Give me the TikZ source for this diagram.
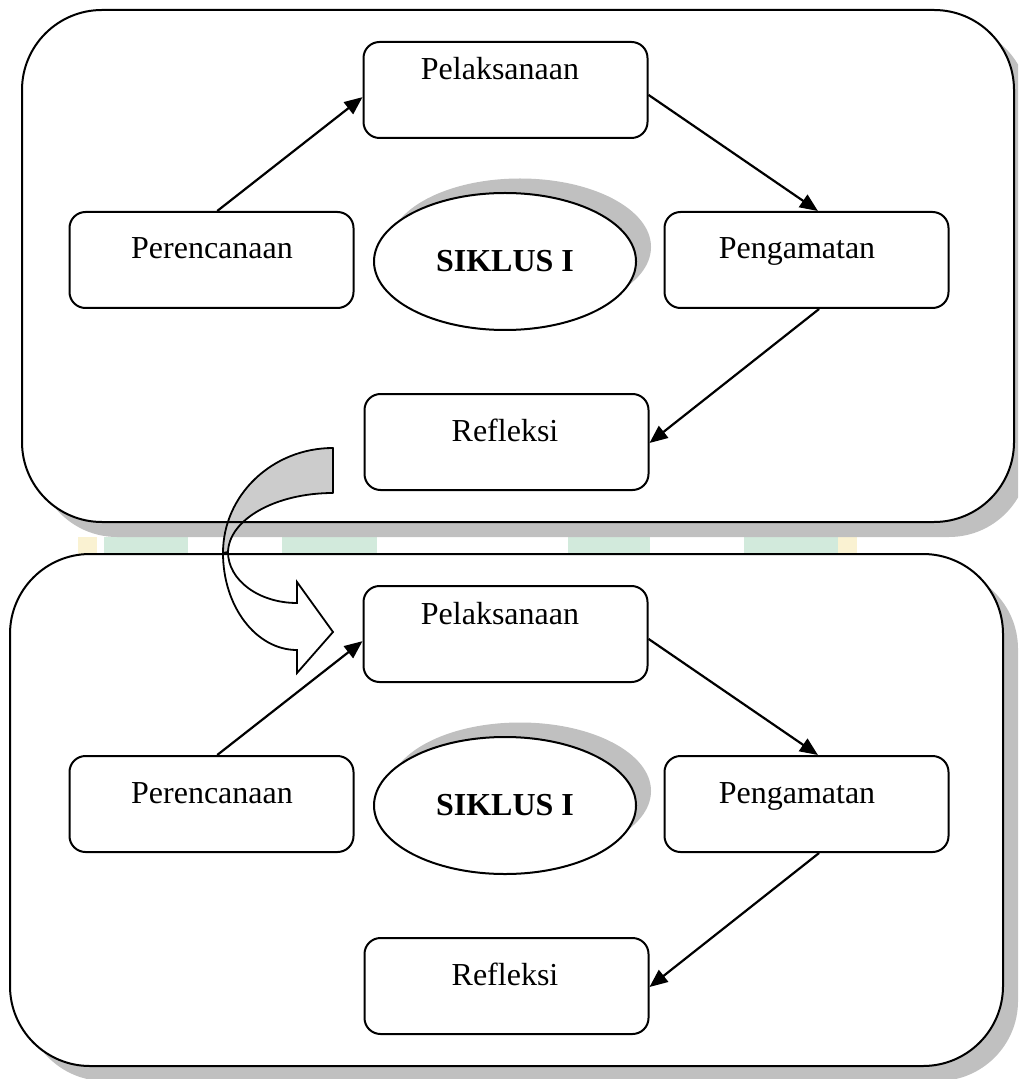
\documentclass[tikz,border=0pt]{standalone}
\usepackage{fontspec}
\setmainfont{Liberation Serif}
\usetikzlibrary{arrows.meta,calc,shapes.geometric}
\definecolor{shadowgray}{HTML}{C0C0C0}
\definecolor{bandgray}{HTML}{CCCCCC}
\definecolor{wmgreen}{HTML}{D2EADC}
\definecolor{wmyellow}{HTML}{FAF2D2}
\newcommand\siklusrow[2]{%
  \begin{scope}[shift={(0,#2)}]
    \fill[shadowgray] (520,247) ellipse [x radius=131, y radius=68.5];
    \node[cyclebox] (#1el) at (505,261.5) {\bfseries SIKLUS I};
    \node[stagebox] (#1pel) at (505.5,90) {};
    \node[stagebox] (#1per) at (211.5,260) {};
    \node[stagebox] (#1peng) at (806.5,260) {};
    \node[stagebox] (#1ref) at (506.5,442) {};
    \node[lbl] (#1pelt) at (500,80) {Pelaksanaan};
    \node[lbl] (#1pert) at (212,259) {Perencanaan};
    \node[lbl] (#1pengt) at (797,259) {Pengamatan};
    \node[lbl] (#1reft) at (505,441) {Refleksi};
  \end{scope}
  \draw[arr] ($(#1per.north west)!0.52!(#1per.north east)$) -- ($(#1pel.north west)!0.573!(#1pel.south west)$);
  \draw[arr] ($(#1pel.north east)!0.55!(#1pel.south east)$) -- ($(#1peng.north west)!0.54!(#1peng.north east)$);
  \draw[arr] ($(#1peng.south west)!0.544!(#1peng.south east)$) -- ($(#1ref.north east)!0.51!(#1ref.south east)$);
}
\begin{document}
\begin{tikzpicture}[x=0.5pt,y=-0.5pt,
  bigbox/.style={draw=black,line width=1pt,rounded corners=40pt},
  stagebox/.style={draw=black,line width=1pt,fill=white,rounded corners=8pt,
    minimum width=142pt,minimum height=48pt,inner sep=0pt},
  cyclebox/.style={ellipse,draw=black,line width=1pt,fill=white,
    minimum width=131pt,minimum height=68.5pt,inner sep=0pt,font=\fontsize{16}{19}\selectfont},
  lbl/.style={font=\fontsize{16}{19}\selectfont,anchor=base,inner sep=0pt},
  arr/.style={-{Triangle[length=9pt,width=7.5pt]},line width=1.1pt},
]
\useasboundingbox (0,0) rectangle (1018,1079);
\clip (0,0) rectangle (1018,1079);
% watermark fragments visible in the gap
\fill[wmgreen] (104,537) rectangle (188,554);
\fill[wmgreen] (282,537) rectangle (377,554);
\fill[wmgreen] (568,537) rectangle (650,554);
\fill[wmgreen] (744,537) rectangle (838,554);
\fill[wmyellow] (78,537) rectangle (97,554);
\fill[wmyellow] (838,537) rectangle (857,554);
% big frames with shadows
\fill[shadowgray,rounded corners=40pt] (37,25) rectangle (1029,537);
\fill[white,rounded corners=40pt] (22,10) rectangle (1014,522);
\fill[shadowgray,rounded corners=40pt] (25,569) rectangle (1018,1081);
\fill[white,rounded corners=40pt] (10,554) rectangle (1003,1066);
% cycles
\siklusrow{a}{0}
\siklusrow{b}{544}
% curved block arrow
\coordinate (cvstart) at (333,448);
\filldraw[fill=bandgray,draw=black,line width=0.9pt,line join=round]
  (cvstart) arc[start angle=270,end angle=180,x radius=110,y radius=105]
  -- (228,553) arc[start angle=180,end angle=270,x radius=105,y radius=60] -- cycle;
\filldraw[fill=white,draw=black,line width=0.9pt,line join=miter]
  (223,553) arc[start angle=180,end angle=90,x radius=74,y radius=97]
  -- (297,673) -- (333,632) -- (297,582) -- (297,603)
  arc[start angle=90,end angle=180,x radius=69,y radius=51] -- cycle;
% frame outlines on top
\draw[bigbox] (22,10) rectangle (1014,522);
\draw[bigbox] (10,554) rectangle (1003,1066);
\end{tikzpicture}
\end{document}
